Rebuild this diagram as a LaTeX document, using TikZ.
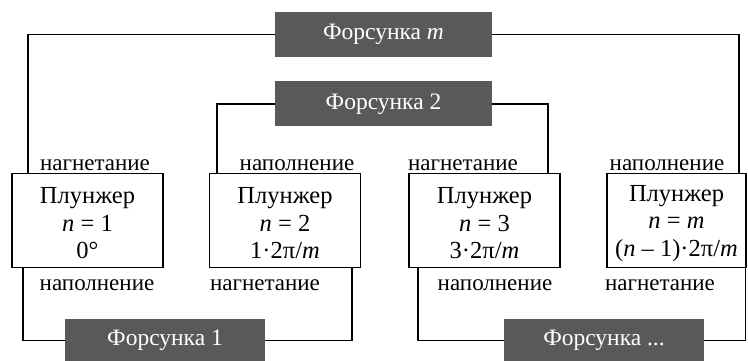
\documentclass[tikz,border=0pt]{standalone}
\usepackage{fontspec}
\setmainfont{Liberation Serif}[Ligatures=TeX]
\definecolor{darkbox}{RGB}{89,89,89}
\begin{document}
\begin{tikzpicture}[x=1pt,y=-1pt,
  fors/.style={fill=darkbox,text=white,minimum width=217pt,minimum height=45pt,inner sep=0pt,font=\fontsize{23.5}{24}\selectfont},
  plunger/.style={draw,line width=1.5pt,minimum width=151pt,minimum height=94pt,inner sep=0pt},
  ptext/.style={inner sep=0pt,align=center,font=\fontsize{24.5}{27.5}\selectfont},
  lbl/.style={anchor=base,inner sep=0pt,font=\fontsize{23}{24}\selectfont},
  conn/.style={line width=1.5pt}]
\useasboundingbox (0,0) rectangle (748,361);
\node[fors] (fm) at (383.5,34.5) {Форсунка \textit{m}};
\node[fors] (f2) at (383.5,104) {Форсунка 2};
\node[fors,minimum width=200pt,minimum height=43pt] (f1) at (165,340.5) {Форсунка 1};
\node[fors,minimum width=200pt,minimum height=43pt] (fd) at (604,340.5) {Форсунка ...};
\node[plunger] (p1) at (87.5,220.5) {};
\node[plunger] (p2) at (285,220.5) {};
\node[plunger] (p3) at (484.5,220.5) {};
\node[plunger,minimum width=139pt] (p4) at (676.5,220.5) {};
\node[ptext] (t1) at ([yshift=-3pt]p1.center) {Плунжер\\\textit{n} = 1\\0°};
\node[ptext] (t2) at ([yshift=-3pt]p2.center) {Плунжер\\\textit{n} = 2\\1·2π/\textit{m}};
\node[ptext] (t3) at ([yshift=-3pt]p3.center) {Плунжер\\\textit{n} = 3\\3·2π/\textit{m}};
\node[ptext] (t4) at ([yshift=-3pt]p4.center) {Плунжер\\\textit{n} = \textit{m}\\(\textit{n} – 1)·2π/\textit{m}};
\node[lbl] (a1) at (95,170) {нагнетание};
\node[lbl] (a2) at (297,170) {наполнение};
\node[lbl] (a3) at (463,170) {нагнетание};
\node[lbl] (a4) at (667,170) {наполнение};
\node[lbl] (b1) at (97,290) {наполнение};
\node[lbl] (b2) at (265,290) {нагнетание};
\node[lbl] (b3) at (495,290) {наполнение};
\node[lbl] (b4) at (660,290) {нагнетание};
\draw[conn] (fm.west) -| ([xshift=-59.5pt]p1.north);
\draw[conn] (fm.east) -| ([xshift=62.5pt]p4.north);
\draw[conn] (f2.west) -| ([xshift=-68pt]p2.north);
\draw[conn] (f2.east) -| ([xshift=63.5pt]p3.north);
\draw[conn] ([xshift=-64.5pt]p1.south) |- (f1.west);
\draw[conn] (f1.east) -| ([xshift=67pt]p2.south);
\draw[conn] ([xshift=-66.5pt]p3.south) |- (fd.west);
\draw[conn] (fd.east) -| ([xshift=69pt]p4.south);
\end{tikzpicture}
\end{document}
